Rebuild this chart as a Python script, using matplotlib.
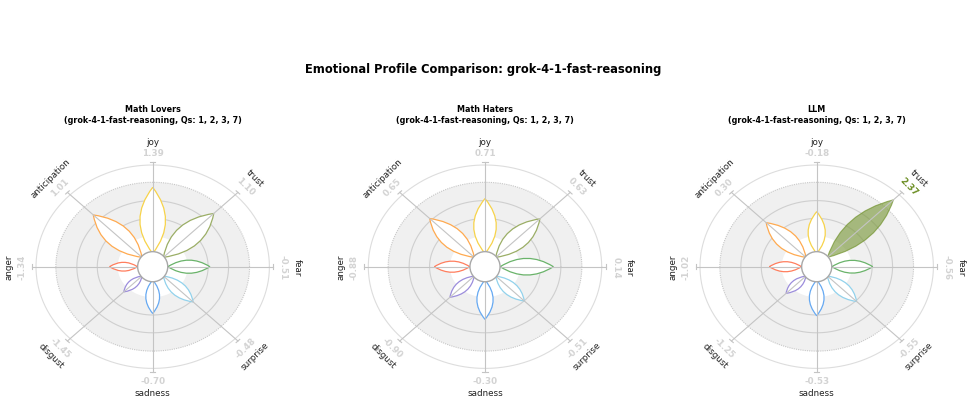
import numpy as np
import matplotlib
matplotlib.use("Agg")
import matplotlib.pyplot as plt
from matplotlib.path import Path
from matplotlib.patches import PathPatch, Ellipse


# ============================================================
#  Data (petal length read off the wheel, label = z-score)
# ============================================================
emotions = ["joy", "trust", "fear", "surprise", "sadness", "disgust", "anger", "anticipation"]

lovers_petal = [0.78, 0.74, 0.49, 0.49, 0.46, 0.35, 0.37, 0.72]
lovers_z     = [1.39, 1.10, -0.51, -0.48, -0.70, -1.45, -1.34, 1.01]

haters_petal = [0.67, 0.665, 0.586, 0.477, 0.518, 0.425, 0.434, 0.67]
haters_z     = [0.71, 0.63, 0.14, -0.51, -0.30, -0.90, -0.88, 0.65]

llm_petal = [0.541, 0.93, 0.48, 0.484, 0.482, 0.371, 0.406, 0.612]
llm_z     = [-0.18, 2.37, -0.56, -0.55, -0.53, -1.25, -1.02, 0.30]

panel_names = ["Math Lovers", "Math Haters", "LLM"]
model = "grok-4-1-fast-reasoning"
questions = "1, 2, 3, 7"

edge_colors = ["#F7D34A", "#9BAE66", "#6AB36A", "#92D2EC",
               "#66A9F2", "#9C8DDC", "#FF7E5E", "#FFAA50"]
fill_colors = ["#F7D34A", "#7D9A3F", "#4E9A4E", "#6EC0E0",
               "#3D8FE8", "#7E6BCF", "#F0603C", "#F59428"]
text_colors = ["#C9A400", "#6B8E23", "#3F8A3F", "#4AA8CC",
               "#2C7BD6", "#6A55C2", "#E04A2A", "#E07F10"]


# ============================================================
#  One wheel
# ============================================================
def draw_wheel(ax, petals, zs, title):
    t = np.linspace(0, 2 * np.pi, 400)
    ct, st = np.cos(t), np.sin(t)

    # shaded band + white core
    ax.fill(0.83 * ct, 0.83 * st, color="#F0F0F0", lw=0, zorder=0)
    ax.fill(0.30 * ct, 0.30 * st, color="white", lw=0, zorder=0.5)
    ax.plot(0.83 * ct, 0.83 * st, ls=(0, (1, 1)), color="#C8C8C8", lw=0.8, zorder=1)
    for r, c in [(0.475, "#CFCFCF"), (0.65, "#CFCFCF"), (1.0, "#DDDDDD")]:
        ax.plot(r * ct, r * st, color=c, lw=0.8, zorder=1)

    for i, emo in enumerate(emotions):
        th = np.deg2rad(45 * i)
        d = np.array([np.sin(th), np.cos(th)])
        n = np.array([np.cos(th), -np.sin(th)])

        # axis line with a small end tick
        ax.plot([0, 1.033 * d[0]], [0, 1.033 * d[1]], color="#C4C4C4", lw=0.8, zorder=4)
        p = 1.033 * d
        ax.plot([p[0] - 0.022 * n[0], p[0] + 0.022 * n[0]],
                [p[1] - 0.022 * n[1], p[1] + 0.022 * n[1]], color="#C4C4C4", lw=0.8, zorder=4)

        # petal (lens shaped, width saturates for long petals)
        r0, r1 = 0.13, petals[i]
        L = r1 - r0
        w = min(0.36 * L, 0.22)
        mid = (r0 + r1) / 2 * d
        verts = [r0 * d, mid + w * n, r1 * d, mid - w * n, r0 * d, r0 * d]
        codes = [Path.MOVETO, Path.CURVE3, Path.CURVE3, Path.CURVE3, Path.CURVE3, Path.CLOSEPOLY]
        hl = abs(zs[i]) >= 2
        if hl:
            patch = PathPatch(Path(verts, codes), facecolor=fill_colors[i], alpha=0.65,
                              edgecolor=text_colors[i], lw=0.8, zorder=3)
        else:
            patch = PathPatch(Path(verts, codes), facecolor="white",
                              edgecolor=edge_colors[i], lw=0.9, zorder=3)
        ax.add_patch(patch)

        # labels
        deg = 45 * i
        rot = -deg if (deg <= 90 or deg >= 270) else 180 - deg
        vx, vy = 1.12 * d
        ax.text(vx, vy, f"{zs[i]:.2f}", rotation=rot, rotation_mode="anchor",
                ha="center", va="center", fontsize=6.3, fontweight="bold",
                color=text_colors[i] if hl else "#D3D3D3", zorder=6)
        nx, ny = 1.235 * d
        ax.text(nx, ny, emo, rotation=rot, rotation_mode="anchor",
                ha="center", va="center", fontsize=6.3, color="#222222", zorder=6)

    # centre hole (round in pixels)
    ax.add_patch(Ellipse((0, 0), 0.258, 0.296, facecolor="white",
                         edgecolor="#A8A8A8", lw=1.0, zorder=5))

    ax.text(0, 1.50, f"{title}\n({model}, Qs: {questions})", ha="center", va="center",
            fontsize=5.75, fontweight="bold", linespacing=1.2)

    ax.set_xlim(-1.35, 1.35)
    ax.set_ylim(-1.35, 1.35)
    ax.axis("off")


# ============================================================
#  Figure
# ============================================================
W, H = 971, 402
fig = plt.figure(figsize=(W / 100, H / 100), dpi=100)

sx, sy, lim = 116.7, 101.7, 1.35
centers = [(152.7, 267.7), (485.0, 267.7), (816.7, 267.7)]
data = [(lovers_petal, lovers_z), (haters_petal, haters_z), (llm_petal, llm_z)]

for (cx, cy), (pet, zz), name in zip(centers, data, panel_names):
    ax = fig.add_axes([(cx - lim * sx) / W, (H - cy - lim * sy) / H,
                       2 * lim * sx / W, 2 * lim * sy / H])
    ax.set_facecolor("none")
    draw_wheel(ax, pet, zz, name)

fig.text(483 / W, 1 - 70 / H, f"Emotional Profile Comparison: {model}",
         ha="center", va="center", fontsize=8.3, fontweight="bold")

fig.savefig("out.png", dpi=100)
